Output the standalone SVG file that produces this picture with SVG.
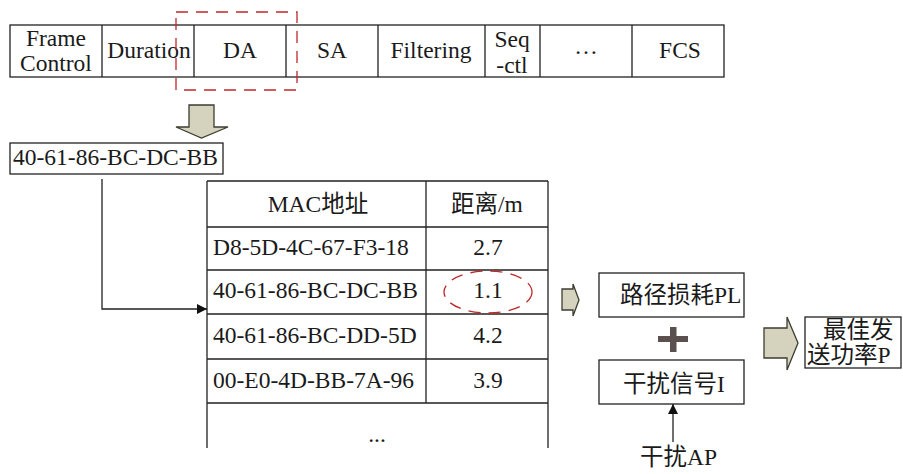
<svg xmlns="http://www.w3.org/2000/svg" width="903" height="474" viewBox="0 0 903 474">
<style>
.t{font-family:'Liberation Serif','DejaVu Serif','Noto Sans CJK SC',serif;font-size:23.5px;fill:#1a1a1a}
.c{text-anchor:middle}
.box{fill:#fff;stroke:#222;stroke-width:1.3}
.ln{stroke:#222;stroke-width:1.3;fill:none}
.blk{fill:#d5d3bd;stroke:#3d3d30;stroke-width:1.3}
.red{fill:none;stroke:#c0282a;stroke-width:1.3;stroke-dasharray:12 8}
</style>
<defs>
<marker id="ah" viewBox="0 0 10 10" refX="10" refY="5" markerWidth="10" markerHeight="10" markerUnits="userSpaceOnUse" orient="auto">
<path d="M0,0 L10,5 L0,10 Z" fill="#111"/>
</marker>
</defs>
<rect width="903" height="474" fill="#fff"/>

<g id="frame">
<rect class="box" x="10" y="25" width="714" height="52"/>
<path class="ln" d="M102,25V77M194,25V77M286,25V77M378,25V77M485,25V77M540,25V77M632,25V77"/>
<text class="t c" x="56" y="46">Frame</text>
<text class="t c" x="56" y="71">Control</text>
<text class="t c" x="149" y="58">Duration</text>
<text class="t c" x="240" y="58">DA</text>
<text class="t c" x="332" y="58">SA</text>
<text class="t c" x="431" y="58">Filtering</text>
<text class="t c" x="512" y="47">Seq</text>
<text class="t c" x="512" y="73">-ctl</text>
<text class="t c" x="586" y="54">…</text>
<text class="t c" x="680" y="58">FCS</text>
</g>

<g id="da-highlight">
<rect class="red" x="176" y="12" width="121" height="78"/>
</g>

<g id="down-arrow">
<polygon class="blk" points="189,105 214,105 214,127 228,127 201.5,138 176,127 189,127"/>
</g>

<g id="da-value">
<rect class="box" x="10" y="143" width="213" height="31"/>
<text class="t" x="13" y="165">40-61-86-BC-DC-BB</text>
</g>

<g id="table">
<path class="ln" d="M207,181H548M207,227H548M207,270H548M207,314H548M207,359H548M207,403H548M207,181V448M548,181V448M426,181V403"/>
<text class="t c" x="318" y="212">MAC地址</text>
<text class="t c" x="487" y="212">距离/m</text>
<text class="t" x="213" y="255">D8-5D-4C-67-F3-18</text>
<text class="t c" x="488" y="255">2.7</text>
<text class="t" x="213" y="298">40-61-86-BC-DC-BB</text>
<text class="t c" x="488" y="298">1.1</text>
<text class="t" x="213" y="343">40-61-86-BC-DD-5D</text>
<text class="t c" x="488" y="343">4.2</text>
<text class="t" x="213" y="388">00-E0-4D-BB-7A-96</text>
<text class="t c" x="488" y="388">3.9</text>
<text class="t c" x="377" y="442">...</text>
<ellipse class="red" cx="488" cy="292" rx="44" ry="21" stroke-dasharray="9 6"/>
</g>

<g id="pl">
<rect class="box" x="599" y="273" width="145" height="44"/>
<text class="t" x="620" y="303">路径损耗PL</text>
</g>

<g id="plus">
<rect x="658" y="336" width="30" height="6" fill="#5a5050"/>
<rect x="670" y="327" width="6.5" height="25" fill="#5a5050"/>
</g>

<g id="interference">
<rect class="box" x="599" y="360" width="145" height="44"/>
<text class="t" x="623" y="392">干扰信号I</text>
</g>

<g id="ap-label">
<text class="t" x="640" y="465">干扰AP</text>
</g>

<g id="result">
<rect class="box" x="805" y="317" width="96" height="51"/>
<text class="t" x="823" y="338">最佳发</text>
<text class="t" x="807" y="363">送功率P</text>
</g>

<g id="block-arrows">
<polygon class="blk" points="562,289 573,289 573,284 579,300 573,316 573,310 562,310"/>
<polygon class="blk" points="764,328 787,328 787,317 798,343 787,370 787,358 764,358"/>
</g>

<g id="connectors">
<path class="ln" d="M102,179V309H207" marker-end="url(#ah)"/>
<path class="ln" d="M673,442V404" marker-end="url(#ah)"/>
</g>
</svg>
